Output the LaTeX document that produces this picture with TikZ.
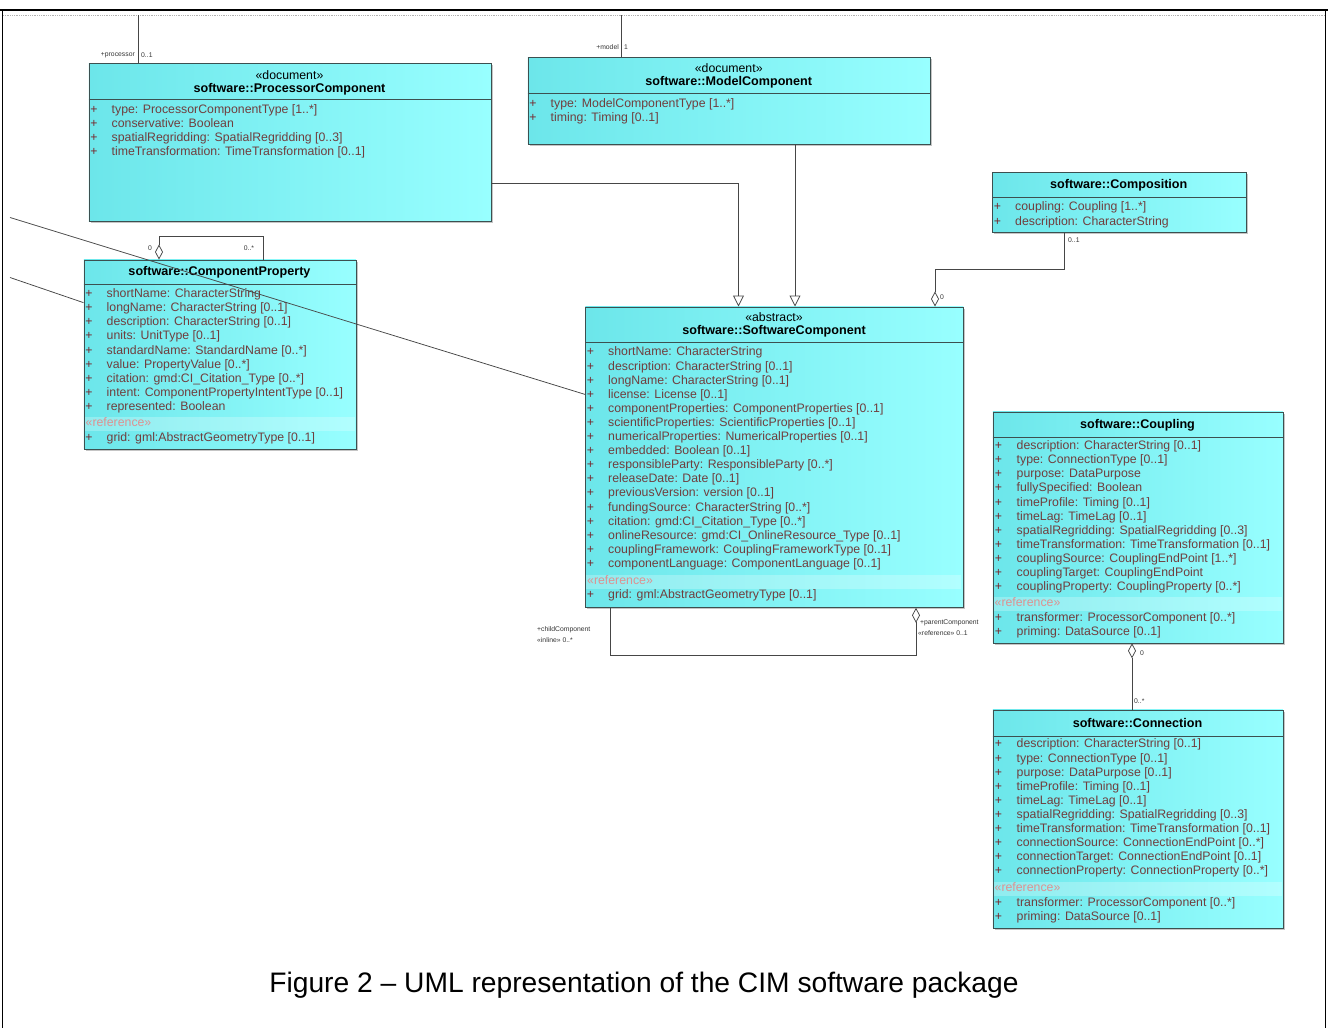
\documentclass[tikz,border=0pt]{standalone}
\usepackage{fontspec}
\setmainfont{Liberation Sans}
\usetikzlibrary{arrows.meta,shadows}

\definecolor{umlL}{RGB}{108,230,234}
\definecolor{umlR}{RGB}{152,255,255}
\definecolor{umlEdge}{RGB}{60,80,80}
\definecolor{attrText}{RGB}{112,62,62}
\definecolor{plusText}{RGB}{120,40,45}
\definecolor{refText}{RGB}{222,145,145}
\definecolor{wire}{RGB}{70,70,70}

\newcommand{\attrfont}{\fontsize{12.3}{14}\selectfont}
\newcommand{\namefont}{\bfseries\fontsize{12.6}{14}\selectfont}
\newcommand{\tagfont}{\fontsize{6.8}{8}\selectfont}
\newcommand{\capfont}{\fontsize{28.2}{30}\selectfont}

\tikzset{
  classbox/.style={draw=umlEdge, line width=0.8pt, left color=umlL, right color=umlR,
    anchor=north west, inner sep=0pt,
    drop shadow={shadow xshift=2pt, shadow yshift=-2pt, fill=black!45, opacity=0.5}},
  stereo/.style={font=\attrfont, inner sep=0pt},
  cname/.style={font=\namefont, inner sep=0pt},
  plus/.style={font=\attrfont, text=plusText, anchor=mid, inner sep=0pt},
  attr/.style={font=\attrfont, text=attrText, anchor=mid west, inner sep=0pt},
  reftag/.style={font=\attrfont, text=refText, anchor=mid west, inner sep=0pt},
  refband/.style={fill=white, fill opacity=0.25, draw=none},
  sepline/.style={draw=umlEdge, line width=0.8pt},
  tag/.style={font=\tagfont, text=black!80, inner sep=0pt},
  wireline/.style={draw=wire, line width=0.75pt},
  gen/.style={wireline, -{Triangle[open, width=11pt, length=11pt]}},
  agg/.style={wireline, -{Diamond[open, width=8pt, length=15pt]}},
  aggs/.style={wireline, {Diamond[open, width=8pt, length=15pt]}-},
}

\begin{document}
\begin{tikzpicture}[x=1pt, y=-1pt]
\useasboundingbox (0,0) rectangle (1328,1028);

%frame
	\draw[line width=1.5pt] (2.5,10) -- (2.5,1028);
	\draw[line width=1.5pt] (1325.5,10) -- (1325.5,1028);
	\draw[line width=2.6pt] (0,10) -- (1328,10);
	\draw[gray!60, densely dotted, line width=0.8pt] (3,15) -- (1325,15);

%ProcessorComponent
	\node[classbox, minimum width=402pt, minimum height=158pt] (proc) at (88.5,63) {};
	\node[stereo] (proc-st) at (289.5,75.5) {«document»};
	\node[cname] (proc-nm) at (289.5,89) {software::ProcessorComponent};
	\draw[sepline] (88.5,99.5) -- (490.5,99.5);
	\foreach \t [count=\i] in {{type: ProcessorComponentType [1..*]}, {conservative: Boolean},
		{spatialRegridding: SpatialRegridding [0..3]}, {timeTransformation: TimeTransformation [0..1]}}{
		\node[plus] (proc-p\i) at (94, 96.4+14.1*\i) {+};
		\node[attr] (proc-a\i) at (111.5, 96.4+14.1*\i) {\t};
	}

%ModelComponent
	\node[classbox, minimum width=402.5pt, minimum height=86.5pt] (model) at (527.5,57) {};
	\node[stereo] (model-st) at (728.75,68.5) {«document»};
	\node[cname] (model-nm) at (728.75,82) {software::ModelComponent};
	\draw[sepline] (527.5,93.5) -- (930,93.5);
	\foreach \t [count=\i] in {{type: ModelComponentType [1..*]}, {timing: Timing [0..1]}}{
		\node[plus] (model-p\i) at (533, 90.4+14.1*\i) {+};
		\node[attr] (model-a\i) at (550.5, 90.4+14.1*\i) {\t};
	}

%Composition
	\node[classbox, minimum width=253.5pt, minimum height=60pt] (comp) at (992,172) {};
	\node[cname] (comp-nm) at (1118.75,185.5) {software::Composition};
	\draw[sepline] (992,197.5) -- (1245.5,197.5);
	\foreach \t [count=\i] in {{coupling: Coupling [1..*]}, {description: CharacterString}}{
		\node[plus] (comp-p\i) at (997.5, 194.2+14.1*\i) {+};
		\node[attr] (comp-a\i) at (1015, 194.2+14.1*\i) {\t};
	}

%SoftwareComponent
	\node[classbox, minimum width=378pt, minimum height=300.5pt] (soft) at (585,306.5) {};
	\fill[refband] (586,575) rectangle (961,589);
	\node[stereo] (soft-st) at (774,317.5) {«abstract»};
	\node[cname] (soft-nm) at (774,331.7) {software::SoftwareComponent};
	\draw[sepline] (585,342.7) -- (963,342.7);
	\foreach \t [count=\i] in {{shortName: CharacterString}, {description: CharacterString [0..1]},
		{longName: CharacterString [0..1]}, {license: License [0..1]},
		{componentProperties: ComponentProperties [0..1]}, {scientificProperties: ScientificProperties [0..1]},
		{numericalProperties: NumericalProperties [0..1]}, {embedded: Boolean [0..1]},
		{responsibleParty: ResponsibleParty [0..*]}, {releaseDate: Date [0..1]},
		{previousVersion: version [0..1]}, {fundingSource: CharacterString [0..*]},
		{citation: gmd:CI\_Citation\_Type [0..*]}, {onlineResource: gmd:CI\_OnlineResource\_Type [0..1]},
		{couplingFramework: CouplingFrameworkType [0..1]}, {componentLanguage: ComponentLanguage [0..1]}}{
		\node[plus] (soft-p\i) at (590.5, 339.2+14.1*\i) {+};
		\node[attr] (soft-a\i) at (608, 339.2+14.1*\i) {\t};
	}
	\node[reftag] (soft-ref) at (587,581.5) {«reference»};
	\node[plus] (soft-pg) at (590.5,596) {+};
	\node[attr] (soft-ag) at (608,596) {grid: gml:AbstractGeometryType [0..1]};

%ComponentProperty
	\node[classbox, minimum width=272pt, minimum height=189pt] (cprop) at (83.5,259.5) {};
	\fill[refband] (84.5,416.5) rectangle (354.5,430.5);
	\node[cname] (cprop-nm) at (219.5,272.5) {software::ComponentProperty};
	\draw[sepline] (83.5,284.5) -- (355.5,284.5);
	\foreach \t [count=\i] in {{shortName: CharacterString}, {longName: CharacterString [0..1]},
		{description: CharacterString [0..1]}, {units: UnitType [0..1]},
		{standardName: StandardName [0..*]}, {value: PropertyValue [0..*]},
		{citation: gmd:CI\_Citation\_Type [0..*]}, {intent: ComponentPropertyIntentType [0..1]},
		{represented: Boolean}}{
		\node[plus] (cprop-p\i) at (89, 280.9+14.1*\i) {+};
		\node[attr] (cprop-a\i) at (106.5, 280.9+14.1*\i) {\t};
	}
	\node[reftag] (cprop-ref) at (85.5,423.5) {«reference»};
	\node[plus] (cprop-pg) at (89,438.5) {+};
	\node[attr] (cprop-ag) at (106.5,438.5) {grid: gml:AbstractGeometryType [0..1]};

%Coupling
	\node[classbox, minimum width=290pt, minimum height=231pt] (coup) at (992.5,411.5) {};
	\fill[refband] (993.5,597) rectangle (1281.5,611);
	\node[cname] (coup-nm) at (1137.5,425.5) {software::Coupling};
	\draw[sepline] (992.5,437.8) -- (1282.5,437.8);
	\foreach \t [count=\i] in {{description: CharacterString [0..1]}, {type: ConnectionType [0..1]},
		{purpose: DataPurpose}, {fullySpecified: Boolean}, {timeProfile: Timing [0..1]},
		{timeLag: TimeLag [0..1]}, {spatialRegridding: SpatialRegridding [0..3]},
		{timeTransformation: TimeTransformation [0..1]}, {couplingSource: CouplingEndPoint [1..*]},
		{couplingTarget: CouplingEndPoint}, {couplingProperty: CouplingProperty [0..*]}}{
		\node[plus] (coup-p\i) at (998.5, 432.9+14.1*\i) {+};
		\node[attr] (coup-a\i) at (1016.5, 432.9+14.1*\i) {\t};
	}
	\node[reftag] (coup-ref) at (994.5,604) {«reference»};
	\foreach \t [count=\i] in {{transformer: ProcessorComponent [0..*]}, {priming: DataSource [0..1]}}{
		\node[plus] (coup-q\i) at (998.5, 604.9+14.1*\i) {+};
		\node[attr] (coup-b\i) at (1016.5, 604.9+14.1*\i) {\t};
	}

%Connection
	\node[classbox, minimum width=290pt, minimum height=218pt] (conn) at (992.5,709.5) {};
	\fill[refband] (993.5,882) rectangle (1281.5,896);
	\node[cname] (conn-nm) at (1137.5,722.7) {software::Connection};
	\draw[sepline] (992.5,736) -- (1282.5,736);
	\foreach \t [count=\i] in {{description: CharacterString [0..1]}, {type: ConnectionType [0..1]},
		{purpose: DataPurpose [0..1]}, {timeProfile: Timing [0..1]}, {timeLag: TimeLag [0..1]},
		{spatialRegridding: SpatialRegridding [0..3]}, {timeTransformation: TimeTransformation [0..1]},
		{connectionSource: ConnectionEndPoint [0..*]}, {connectionTarget: ConnectionEndPoint [0..1]},
		{connectionProperty: ConnectionProperty [0..*]}}{
		\node[plus] (conn-p\i) at (998.5, 731.2+14.1*\i) {+};
		\node[attr] (conn-a\i) at (1016.5, 731.2+14.1*\i) {\t};
	}
	\node[reftag] (conn-ref) at (994.5,889) {«reference»};
	\foreach \t [count=\i] in {{transformer: ProcessorComponent [0..*]}, {priming: DataSource [0..1]}}{
		\node[plus] (conn-q\i) at (998.5, 889.9+14.1*\i) {+};
		\node[attr] (conn-b\i) at (1016.5, 889.9+14.1*\i) {\t};
	}

%links
	\coordinate (procFeed) at (138.5,15);
	\coordinate (modelFeed) at (621.5,15);
	\draw[wireline] (procFeed) -- (procFeed |- proc.north);
	\draw[wireline] (modelFeed) -- (modelFeed |- model.north);

	\coordinate (procBend) at (738.5,183);
	\coordinate (modelDrop) at (795,0);
	\draw[gen] (procBend -| proc.east) -- (procBend) -- (procBend |- soft.north);
	\draw[gen] (modelDrop |- model.south) -- (modelDrop |- soft.north);

	\coordinate (compBend) at (935,269);
	\coordinate (compDrop) at (1064,0);
	\draw[agg] (compDrop |- comp.south) |- (compBend) -- (compBend |- soft.north);

	\coordinate (selfBend) at (916,655);
	\coordinate (selfDrop) at (610.5,0);
	\draw[agg] (selfDrop |- soft.south) |- (selfBend) -- (selfBend |- soft.south);

	\coordinate (cpBend) at (263,236);
	\coordinate (cpRise) at (159,0);
	\draw[aggs] (cpRise |- cprop.north) |- (cpBend) -- (cpBend |- cprop.north);

	\coordinate (coupDrop) at (1132,0);
	\draw[aggs] (coupDrop |- coup.south) -- (coupDrop |- conn.north);

	\coordinate (leftA) at (10,217.5);
	\coordinate (leftB) at (10,277.5);
	\draw[wireline] (leftA) -- ([yshift=62.75pt]soft.west);
	\draw[wireline] (leftB) -- ([yshift=51.75pt]cprop.west);

%end labels
	\node[tag, anchor=east] (t-proc) at (135,55.5) {+processor};
	\node[tag, anchor=west] (t-procm) at (141,55.5) {0..1};
	\node[tag, anchor=east] (t-model) at (619,47.5) {+model};
	\node[tag, anchor=west] (t-modelm) at (624,47.5) {1};
	\node[tag, anchor=west] (t-comp) at (1068,240.5) {0..1};
	\node[tag, anchor=west] (t-compd) at (940,297.5) {0};
	\node[tag, anchor=west] (t-child) at (537,630) {+childComponent};
	\node[tag, anchor=west] (t-childm) at (537,640.5) {«inline» 0..*};
	\node[tag, anchor=west] (t-parent) at (920,623) {+parentComponent};
	\node[tag, anchor=west] (t-parentm) at (918,633.5) {«reference» 0..1};
	\node[tag] (t-cpd) at (150,248) {0};
	\node[tag] (t-cpm) at (249,248) {0..*};
	\node[tag, anchor=west] (t-coupd) at (1140,653) {0};
	\node[tag, anchor=west] (t-connm) at (1134,701.5) {0..*};

%caption
	\node[font=\capfont] (caption) at (644,985) {Figure 2 – UML representation of the CIM software package};
\end{tikzpicture}
\end{document}
